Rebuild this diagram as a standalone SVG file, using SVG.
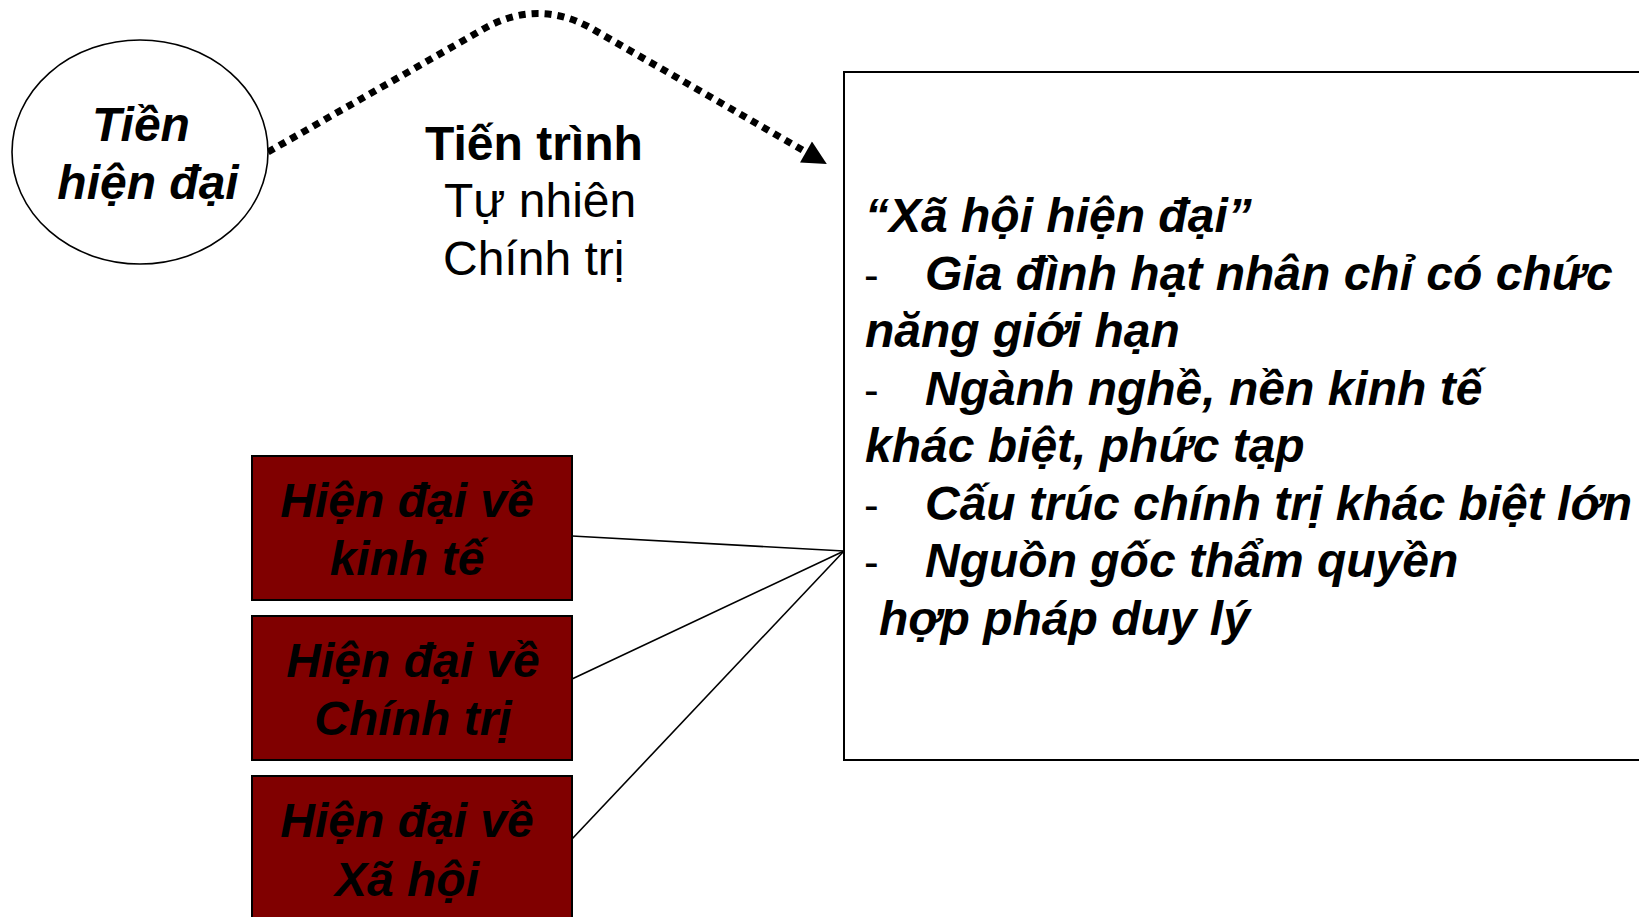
<svg xmlns="http://www.w3.org/2000/svg" width="1639" height="917" viewBox="0 0 1639 917">
<style>
.bi{font-family:"Liberation Sans",Arial,sans-serif;font-weight:bold;font-style:italic;font-size:48px;fill:#000}
.b{font-family:"Liberation Sans",Arial,sans-serif;font-weight:bold;font-size:48px;fill:#000}
.r{font-family:"Liberation Sans",Arial,sans-serif;font-size:48px;fill:#000}
.dash{font-family:"Liberation Sans",Arial,sans-serif;font-weight:normal;font-style:normal;font-size:44px;fill:#000}
.box{fill:#800000;stroke:#000;stroke-width:2}
.conn{stroke:#000;stroke-width:1.6;fill:none}
</style>
<defs>
<marker id="ah" viewBox="0 0 10 10" refX="0" refY="5" markerWidth="26" markerHeight="24" markerUnits="userSpaceOnUse" orient="auto">
<path d="M0,0 L10,5 L0,10 z" fill="#000"/>
</marker>
</defs>
<rect width="1639" height="917" fill="#fff"/>
<g id="connectors">
<path d="M268,152 L487,27 Q538,0 589,27 L806,152" fill="none" stroke="#000" stroke-width="7" stroke-dasharray="7 6" marker-end="url(#ah)"/>
<line class="conn" x1="572" y1="536" x2="844" y2="551"/>
<line class="conn" x1="572" y1="679" x2="844" y2="551"/>
<line class="conn" x1="572" y1="839" x2="844" y2="551"/>
</g>
<g id="tien-hien-dai">
<ellipse cx="140" cy="152" rx="128" ry="112" fill="#fff" stroke="#000" stroke-width="1.6"/>
<text class="bi" x="141" y="141" text-anchor="middle">Tiền</text>
<text class="bi" x="148" y="199" text-anchor="middle">hiện đại</text>
</g>
<g id="tien-trinh">
<text class="b" x="425" y="160">Tiến trình</text>
<text class="r" x="444" y="217">Tự nhiên</text>
<text class="r" x="443" y="275">Chính trị</text>
</g>
<g id="xa-hoi-hien-dai">
<rect x="844" y="72" width="820" height="688" fill="#fff" stroke="#000" stroke-width="2"/>
<text class="bi" x="865" y="232">“Xã hội hiện đại”</text>
<text class="dash" x="864" y="290">-</text>
<text class="bi" x="925" y="290">Gia đình hạt nhân chỉ có chức</text>
<text class="bi" x="865" y="347">năng giới hạn</text>
<text class="dash" x="864" y="405">-</text>
<text class="bi" x="925" y="405">Ngành nghề, nền kinh tế</text>
<text class="bi" x="865" y="462">khác biệt, phức tạp</text>
<text class="dash" x="864" y="520">-</text>
<text class="bi" x="925" y="520">Cấu trúc chính trị khác biệt lớn</text>
<text class="dash" x="864" y="577">-</text>
<text class="bi" x="925" y="577">Nguồn gốc thẩm quyền</text>
<text class="bi" x="879" y="635">hợp pháp duy lý</text>
</g>
<g id="hien-dai-kinh-te">
<rect class="box" x="252" y="456" width="320" height="144"/>
<text class="bi" x="407" y="517" text-anchor="middle">Hiện đại về</text>
<text class="bi" x="407" y="575" text-anchor="middle">kinh tế</text>
</g>
<g id="hien-dai-chinh-tri">
<rect class="box" x="252" y="616" width="320" height="144"/>
<text class="bi" x="413" y="677" text-anchor="middle">Hiện đại về</text>
<text class="bi" x="413" y="735" text-anchor="middle">Chính trị</text>
</g>
<g id="hien-dai-xa-hoi">
<rect class="box" x="252" y="776" width="320" height="150"/>
<text class="bi" x="407" y="837" text-anchor="middle">Hiện đại về</text>
<text class="bi" x="407" y="896" text-anchor="middle">Xã hội</text>
</g>
</svg>
